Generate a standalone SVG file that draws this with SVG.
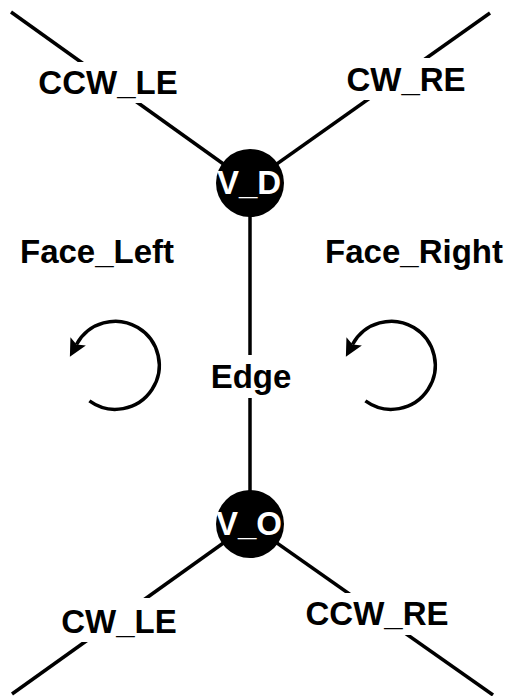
<svg xmlns="http://www.w3.org/2000/svg" width="509" height="696" viewBox="0 0 509 696">
  <style>
    .edge { stroke: #000; stroke-width: 3.5; fill: none; }
    .lbl { font-family: "Liberation Sans", Arial, sans-serif; font-weight: bold; font-size: 33px; fill: #000; text-anchor: middle; }
    .vlbl { font-family: "Liberation Sans", Arial, sans-serif; font-weight: bold; font-size: 33px; fill: #fff; text-anchor: middle; }
    .bg { fill: #fff; stroke: none; }
    .vertex { fill: #000; stroke: none; }
  </style>
  <defs>
    <marker id="arrowhead" viewBox="0 0 10 10" refX="2" refY="5" markerWidth="5" markerHeight="5.5" markerUnits="strokeWidth" orient="auto">
      <path d="M0,0 L10,5 L0,10 L2,5 Z" fill="#000"/>
    </marker>
  </defs>
  <rect width="509" height="696" fill="#fff"/>

  <!-- connectors -->
  <g id="connectors">
    <line class="edge" x1="11" y1="12" x2="250" y2="183"/>
    <line class="edge" x1="490" y1="13" x2="250" y2="183"/>
    <line class="edge" x1="250" y1="183" x2="250" y2="524"/>
    <line class="edge" x1="250" y1="524" x2="12" y2="694"/>
    <line class="edge" x1="250" y1="524" x2="493" y2="695"/>
  </g>

  <!-- connector labels -->
  <g id="edge-labels">
    <g id="label-ccw-le">
      <rect class="bg" x="35" y="62" width="146" height="41"/>
      <text class="lbl" x="108" y="94">CCW_LE</text>
    </g>
    <g id="label-cw-re">
      <rect class="bg" x="344" y="58" width="125" height="42"/>
      <text class="lbl" x="406" y="91">CW_RE</text>
    </g>
    <g id="label-edge">
      <rect class="bg" x="209" y="355" width="84" height="43"/>
      <text class="lbl" x="251" y="388">Edge</text>
    </g>
    <g id="label-cw-le">
      <rect class="bg" x="59" y="598" width="120" height="44"/>
      <text class="lbl" x="119" y="633">CW_LE</text>
    </g>
    <g id="label-ccw-re">
      <rect class="bg" x="303" y="593" width="148" height="42"/>
      <text class="lbl" x="377" y="625">CCW_RE</text>
    </g>
  </g>

  <!-- vertices -->
  <g id="v-d">
    <circle class="vertex" cx="250" cy="183" r="34"/>
    <text class="vlbl" x="249" y="194">V_D</text>
  </g>
  <g id="v-o">
    <circle class="vertex" cx="250" cy="524" r="34"/>
    <text class="vlbl" x="249" y="535">V_O</text>
  </g>

  <!-- faces with their orientation arrows -->
  <g id="face-left">
    <text class="lbl" x="97" y="263">Face_Left</text>
    <path class="edge" marker-end="url(#arrowhead)" d="M 89.4 400.9 A 44 44 0 1 0 76.5 344.5"/>
  </g>
  <g id="face-right">
    <text class="lbl" x="414" y="263">Face_Right</text>
    <path class="edge" marker-end="url(#arrowhead)" d="M 365.4 400.9 A 44 44 0 1 0 352.5 344.5"/>
  </g>
</svg>
